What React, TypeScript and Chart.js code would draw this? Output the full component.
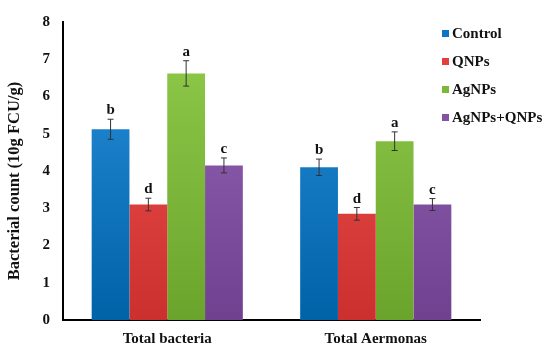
import React, { useEffect, useRef } from "react";
import { Chart, registerables } from "chart.js";

Chart.register(...registerables);

const categories = ["Total bacteria", "Total Aermonas"];
const seriesNames = ["Control", "QNPs", "AgNPs", "AgNPs+QNPs"];
const controlValues = [5.12, 4.1];
const qnpsValues = [3.1, 2.85];
const agnpsValues = [6.62, 4.8];
const comboValues = [4.15, 3.1];
const controlErr = [0.27, 0.22];
const qnpsErr = [0.17, 0.17];
const agnpsErr = [0.34, 0.25];
const comboErr = [0.2, 0.16];
const controlLetters = ["b", "b"];
const qnpsLetters = ["d", "d"];
const agnpsLetters = ["a", "a"];
const comboLetters = ["c", "c"];
const yTicks = [0, 1, 2, 3, 4, 5, 6, 7, 8];
const yTitle = "Bacterial count (10g FCU/g)";

const baseColors = ["#0a76c4", "#e53f3c", "#7cb83a", "#8453a6"];
const topColors = ["#2a8fdc", "#f25552", "#92cc4c", "#9866ba"];
const bottomColors = ["#0063a8", "#cc302e", "#6aa42c", "#6f418f"];

const FONT = "'Liberation Serif', 'Times New Roman', serif";

const errorPlugin = {
  id: "errs",
  afterDatasetsDraw(chart: any) {
    const ctx = chart.ctx;
    const yScale = chart.scales.y;
    ctx.save();
    chart.data.datasets.forEach((ds: any, di: number) => {
      const meta = chart.getDatasetMeta(di);
      meta.data.forEach((bar: any, i: number) => {
        const v = ds.data[i];
        const e = ds.errs[i];
        const yTop = yScale.getPixelForValue(v + e);
        const yBot = yScale.getPixelForValue(v - e);
        const x = bar.x;
        ctx.strokeStyle = "#333";
        ctx.lineWidth = 1;
        ctx.beginPath();
        ctx.moveTo(x, yTop);
        ctx.lineTo(x, yBot);
        ctx.moveTo(x - 3, yTop);
        ctx.lineTo(x + 3, yTop);
        ctx.moveTo(x - 3, yBot);
        ctx.lineTo(x + 3, yBot);
        ctx.stroke();
        ctx.fillStyle = "#111";
        ctx.font = `bold 15px ${FONT}`;
        ctx.textAlign = "center";
        ctx.textBaseline = "alphabetic";
        ctx.fillText(ds.letters[i], x, yTop - 5);
      });
    });
    // legend
    chart.data.datasets.forEach((ds: any, di: number) => {
      const cy = 34 + di * 28;
      ctx.fillStyle = baseColors[di];
      ctx.fillRect(442, cy - 4, 7, 7);
      ctx.fillStyle = "#111";
      ctx.font = `bold 15px ${FONT}`;
      ctx.textAlign = "left";
      ctx.textBaseline = "middle";
      ctx.fillText(ds.label, 452, cy);
    });
    // y title
    ctx.translate(15, 181);
    ctx.rotate(-Math.PI / 2);
    ctx.font = `bold 16.5px ${FONT}`;
    ctx.textAlign = "center";
    ctx.textBaseline = "middle";
    ctx.fillStyle = "#111";
    ctx.fillText(yTitle, 0, 0);
    ctx.restore();
  },
};

export default function App() {
  const ref = useRef<HTMLCanvasElement>(null);
  useEffect(() => {
    const values = [controlValues, qnpsValues, agnpsValues, comboValues];
    const errs = [controlErr, qnpsErr, agnpsErr, comboErr];
    const letters = [controlLetters, qnpsLetters, agnpsLetters, comboLetters];
    const chart = new Chart(ref.current!, {
      type: "bar",
      data: {
        labels: categories,
        datasets: seriesNames.map((name, i) => ({
          label: name,
          data: values[i],
          errs: errs[i],
          letters: letters[i],
          backgroundColor: (c: any) => {
            const area = c.chart.chartArea;
            if (!area) return baseColors[i];
            const g = c.chart.ctx.createLinearGradient(0, area.top, 0, area.bottom);
            g.addColorStop(0, topColors[i]);
            g.addColorStop(1, bottomColors[i]);
            return g;
          },
          borderWidth: 0,
          categoryPercentage: 0.725,
          barPercentage: 1,
        })) as any,
      },
      options: {
        animation: false,
        responsive: false,
        maintainAspectRatio: false,
        layout: { padding: { top: 14, right: 70, left: 0, bottom: 0 } },
        plugins: { legend: { display: false }, tooltip: { enabled: false } },
        scales: {
          x: {
            grid: { display: false, drawTicks: false },
            border: { display: true, color: "#000", width: 2 },
            ticks: { color: "#111", font: { family: FONT, weight: "bold", size: 15 }, padding: 10 },
            afterFit: (s: any) => { s.height = 32; },
          },
          y: {
            min: 0,
            max: 8,
            afterBuildTicks: (s: any) => { s.ticks = yTicks.map((v) => ({ value: v })); },
            grid: { display: false, drawTicks: false },
            border: { display: true, color: "#000", width: 2 },
            ticks: { color: "#111", font: { family: FONT, weight: "bold", size: 15 }, padding: 13 },
            afterFit: (s: any) => { s.width = 63; },
          },
        },
      } as any,
      plugins: [errorPlugin],
    });
    return () => chart.destroy();
  }, []);
  return (
    <div style={{ position: "fixed", left: 0, top: 0, width: 550, height: 352, background: "#fff" }}>
      <canvas ref={ref} width={550} height={352} style={{ width: 550, height: 352 }} />
    </div>
  );
}
